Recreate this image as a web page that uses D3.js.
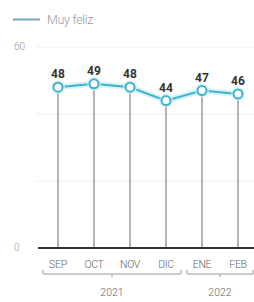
<!DOCTYPE html>
<html>
<head>
<meta charset="utf-8">
<script src="https://cdn.jsdelivr.net/npm/d3@7"></script>
<style>
	body{margin:0;background:#fff;}
	svg{display:block;}
</style>
</head>
<body>
<div id="chart"></div>
<script>
const months = ['SEP','OCT','NOV','DIC','ENE','FEB'];
const values = [48, 49, 48, 44, 47, 46];
const years = [
	{label:'2021', from:'SEP', to:'DIC'},
	{label:'2022', from:'ENE', to:'FEB'}
];
const yTicks = [0, 20, 40, 60];
const legendLabel = 'Muy feliz';

const W = 254, H = 302;
const teal = '#3db3cc';

const svg = d3.select('#chart')
	.append('svg')
	.attr('width', W)
	.attr('height', H);

const x = d3.scaleBand().domain(months).range([40, 256]).padding(0);
const y = d3.scaleLinear().domain([0, 60]).range([248, 47]);

// legend
svg.append('line')
	.attr('x1', 13).attr('x2', 40)
	.attr('y1', 19.5).attr('y2', 19.5)
	.attr('stroke', '#7aa6c4')
	.attr('stroke-width', 2);
svg.append('text')
	.attr('x', 47).attr('y', 24)
	.attr('font-family', 'Roboto, sans-serif')
	.attr('font-weight', 300)
	.attr('font-size', 12.5)
	.attr('letter-spacing', -0.3)
	.attr('fill', '#999')
	.text(legendLabel);

// grid
svg.selectAll('.grid')
	.data(yTicks.filter(d => d > 0))
	.enter()
	.append('line')
	.attr('class','grid')
	.attr('x1', 36).attr('x2', W)
	.attr('y1', d => y(d)).attr('y2', d => y(d))
	.attr('stroke', '#f0f0f0')
	.attr('stroke-width', 1);

svg.selectAll('.ylab')
	.data([0, 60])
	.enter()
	.append('text')
	.attr('class','ylab')
	.attr('x', 14)
	.attr('y', d => y(d) + 3)
	.attr('font-family', 'Roboto, sans-serif')
	.attr('font-weight', 300)
	.attr('font-size', 10)
	.attr('fill', '#999')
	.text(d => d);

const cx = d => x(d) + x.bandwidth() / 2;

// drop lines
svg.selectAll('.drop')
	.data(months)
	.enter()
	.append('line')
	.attr('class','drop')
	.attr('x1', d => cx(d)).attr('x2', d => cx(d))
	.attr('y1', (d,i) => y(values[i])).attr('y2', y(0))
	.attr('stroke', '#9a9a9a')
	.attr('stroke-width', 1.5);

// baseline
svg.append('line')
	.attr('x1', 38).attr('x2', W)
	.attr('y1', y(0)).attr('y2', y(0))
	.attr('stroke', '#333')
	.attr('stroke-width', 2);

// line
const line = d3.line()
	.x((d,i) => cx(months[i]))
	.y(d => y(d));

svg.append('path')
	.datum(values)
	.attr('d', line)
	.attr('fill','none')
	.attr('stroke', '#bfeaf4')
	.attr('stroke-width', 6)
	.attr('stroke-opacity', 0.6);

svg.append('path')
	.datum(values)
	.attr('d', line)
	.attr('fill','none')
	.attr('stroke', teal)
	.attr('stroke-width', 2);

svg.selectAll('.halo')
	.data(values)
	.enter()
	.append('circle')
	.attr('cx', (d,i) => cx(months[i]))
	.attr('cy', d => y(d))
	.attr('r', 7)
	.attr('fill', '#d6f1f7')
	.attr('opacity', 0.7);

svg.selectAll('.pt')
	.data(values)
	.enter()
	.append('circle')
	.attr('class','pt')
	.attr('cx', (d,i) => cx(months[i]))
	.attr('cy', d => y(d))
	.attr('r', 4.5)
	.attr('fill', '#fff')
	.attr('stroke', teal)
	.attr('stroke-width', 2);

svg.selectAll('.val')
	.data(values)
	.enter()
	.append('text')
	.attr('class','val')
	.attr('x', (d,i) => cx(months[i]))
	.attr('y', d => y(d) - 9)
	.attr('text-anchor','middle')
	.attr('font-family', 'Roboto, Liberation Sans, sans-serif')
	.attr('font-weight', 'bold')
	.attr('font-size', 12)
	.attr('fill', '#333')
	.text(d => d);

// month labels
svg.selectAll('.mon')
	.data(months)
	.enter()
	.append('text')
	.attr('class','mon')
	.attr('x', d => cx(d))
	.attr('y', 268)
	.attr('text-anchor','middle')
	.attr('font-family', 'Roboto, sans-serif')
	.attr('font-weight', 300)
	.attr('font-size', 10.5)
	.attr('letter-spacing', -0.3)
	.attr('fill', '#666')
	.text(d => d);

// year brackets
const yb = svg.selectAll('.year')
	.data(years)
	.enter()
	.append('g')
	.attr('class','year');

const bx0 = d => x(d.from) + 3;
const bx1 = d => Math.min(x(d.to) + x.bandwidth() - 3, W);

yb.append('path')
	.attr('d', d => `M${bx0(d)},270V274H${bx1(d)}V270`)
	.attr('fill','none')
	.attr('stroke','#999')
	.attr('stroke-width',1);

yb.append('line')
	.attr('x1', d => (bx0(d) + bx1(d)) / 2)
	.attr('x2', d => (bx0(d) + bx1(d)) / 2)
	.attr('y1', 274).attr('y2', 277)
	.attr('stroke','#999');

yb.append('text')
	.attr('x', d => (bx0(d) + bx1(d)) / 2)
	.attr('y', 296)
	.attr('text-anchor','middle')
	.attr('font-family', 'Roboto, sans-serif')
	.attr('font-weight', 300)
	.attr('font-size', 10.5)
	.attr('fill', '#666')
	.text(d => d.label);
</script>
</body>
</html>
